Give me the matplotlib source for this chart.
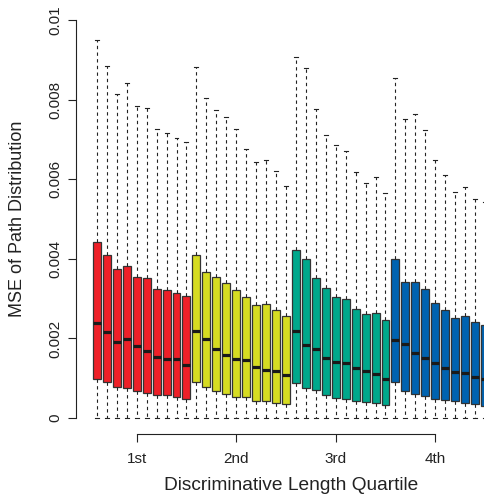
import matplotlib
matplotlib.use("Agg")
import matplotlib.pyplot as plt
import numpy as np

plt.rcParams['font.family'] = ['Liberation Sans', 'DejaVu Sans']

# Boxplot summaries, 10 boxes per length quartile
upper_whisker = [
    0.00950, 0.00885, 0.00813, 0.00842, 0.00784, 0.00779, 0.00727, 0.00717, 0.00704, 0.00694,
    0.00881, 0.00803, 0.00775, 0.00755, 0.00725, 0.00677, 0.00644, 0.00648, 0.00621, 0.00584,
    0.00906, 0.00879, 0.00776, 0.00712, 0.00686, 0.00672, 0.00618, 0.00590, 0.00606, 0.00565,
    0.00855, 0.00752, 0.00764, 0.00723, 0.00648, 0.00611, 0.00567, 0.00581, 0.00551, 0.00542,
]
upper_quartile = [
    0.00442, 0.00409, 0.00374, 0.00382, 0.00355, 0.00351, 0.00325, 0.00322, 0.00315, 0.00307,
    0.00410, 0.00367, 0.00355, 0.00340, 0.00322, 0.00305, 0.00284, 0.00286, 0.00271, 0.00256,
    0.00423, 0.00399, 0.00352, 0.00326, 0.00305, 0.00298, 0.00274, 0.00261, 0.00263, 0.00246,
    0.00400, 0.00342, 0.00341, 0.00323, 0.00290, 0.00271, 0.00252, 0.00256, 0.00242, 0.00235,
]
medians = [
    0.00238, 0.00215, 0.00190, 0.00198, 0.00182, 0.00168, 0.00154, 0.00148, 0.00148, 0.00134,
    0.00219, 0.00198, 0.00173, 0.00158, 0.00148, 0.00147, 0.00128, 0.00121, 0.00119, 0.00109,
    0.00219, 0.00183, 0.00173, 0.00152, 0.00142, 0.00138, 0.00127, 0.00119, 0.00110, 0.00099,
    0.00196, 0.00186, 0.00163, 0.00152, 0.00139, 0.00127, 0.00116, 0.00112, 0.00103, 0.00097,
]
lower_quartile = [
    0.00099, 0.00090, 0.00078, 0.00075, 0.00067, 0.00062, 0.00057, 0.00057, 0.00054, 0.00048,
    0.00090, 0.00077, 0.00067, 0.00060, 0.00052, 0.00052, 0.00044, 0.00043, 0.00039, 0.00036,
    0.00088, 0.00075, 0.00070, 0.00057, 0.00051, 0.00049, 0.00044, 0.00040, 0.00037, 0.00033,
    0.00091, 0.00069, 0.00060, 0.00055, 0.00049, 0.00045, 0.00042, 0.00039, 0.00035, 0.00031,
]
lower_whisker = [0.0] * 40

quartile_labels = ['1st', '2nd', '3rd', '4th']
quartile_colors = ['#EE2028', '#D6DC22', '#00A88C', '#0063B0']
boxes_per_group = 10

stats = []
for lo, q1, med, q3, hi in zip(lower_whisker, lower_quartile, medians,
                               upper_quartile, upper_whisker):
    stats.append(dict(whislo=lo, q1=q1, med=med, q3=q3, whishi=hi, fliers=[]))

positions = np.arange(1, len(stats) + 1)

fig = plt.figure(figsize=(4.85, 5.01), dpi=100)
ax = fig.add_axes([76 / 485, (501 - 434) / 501, 1 - 76 / 485, 430 / 501])

bp = ax.bxp(stats, positions=positions, widths=0.8, patch_artist=True,
            showfliers=False,
            boxprops=dict(edgecolor='#333333', linewidth=0.9),
            medianprops=dict(color='#1a1a1a', linewidth=2.3, solid_capstyle='butt'),
            whiskerprops=dict(color='#222222', linewidth=0.8, linestyle=(0, (3, 3))),
            capprops=dict(color='#222222', linewidth=0.8),
            capwidths=0.4)

for i, patch in enumerate(bp['boxes']):
    patch.set_facecolor(quartile_colors[i // boxes_per_group])

ax.set_xlim(-1.1, 40.0)
ax.set_ylim(-0.0004, 0.0104)

# R-style axes: lines only span the tick range
for side in ['top', 'right']:
    ax.spines[side].set_visible(False)
ax.spines['left'].set_bounds(0, 0.01)
ax.spines['bottom'].set_bounds(5, 35)
for side in ['left', 'bottom']:
    ax.spines[side].set_linewidth(0.8)
    ax.spines[side].set_color('#222222')

yticks = [0, 0.002, 0.004, 0.006, 0.008, 0.01]
ax.set_yticks(yticks)
ax.set_yticklabels(['0', '0.002', '0.004', '0.006', '0.008', '0.01'],
                   rotation=90, va='center', fontsize=11, color='#222222')
ax.tick_params(axis='y', length=6, width=0.8, pad=4, color='#222222')

group_centers = [5, 15, 25, 35]
ax.set_xticks(group_centers)
ax.set_xticklabels(quartile_labels, fontsize=11, color='#222222')
ax.tick_params(axis='x', length=6, width=0.8, pad=7, color='#222222')

fig.text(18 / 485, 1 - 219 / 501, 'MSE of Path Distribution', rotation=90,
         ha='center', va='center', fontsize=13, color='#222222')
fig.text(291 / 485, 1 - 486 / 501, 'Discriminative Length Quartile',
         ha='center', va='center', fontsize=13.8, color='#222222')

fig.savefig('out.png', dpi=100)
